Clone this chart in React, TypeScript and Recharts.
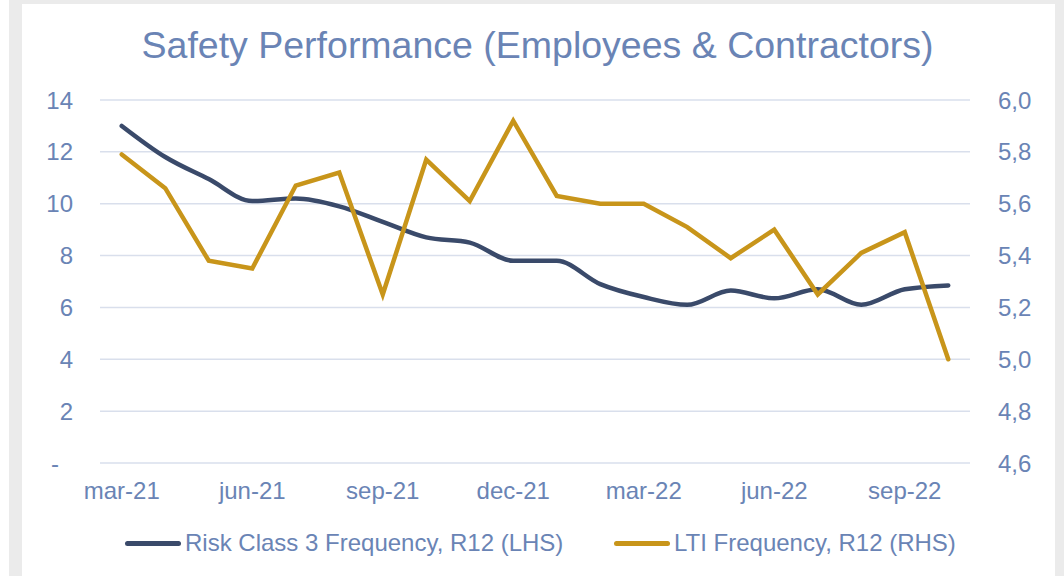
import React from "react";
import {
  LineChart,
  Line,
  XAxis,
  YAxis,
  CartesianGrid,
} from "recharts";

const months = [
  "mar-21", "apr-21", "may-21", "jun-21", "jul-21", "aug-21", "sep-21",
  "oct-21", "nov-21", "dec-21", "jan-22", "feb-22", "mar-22", "apr-22",
  "may-22", "jun-22", "jul-22", "aug-22", "sep-22", "oct-22",
];

const riskClass3 = [
  13.0, 11.8, 10.95, 10.1, 10.2, 9.9, 9.3, 8.7, 8.5, 7.8,
  7.8, 6.9, 6.4, 6.1, 6.65, 6.35, 6.7, 6.1, 6.7, 6.85,
];

const ltiFrequency = [
  5.79, 5.66, 5.38, 5.35, 5.67, 5.72, 5.25, 5.77, 5.61, 5.92,
  5.63, 5.6, 5.6, 5.51, 5.39, 5.5, 5.25, 5.41, 5.49, 5.0,
];

const leftTicks = [0, 2, 4, 6, 8, 10, 12, 14];
const rightTicks = [4.6, 4.8, 5.0, 5.2, 5.4, 5.6, 5.8, 6.0];

const NAVY = "#3a4a6a";
const GOLD = "#c8951a";
const TEXT = "#6a84b5";
const FONT = "'Liberation Sans', Arial, sans-serif";
const TICK_SIZE = 24;

const series = [
  { key: "risk", name: "Risk Class 3 Frequency, R12 (LHS)", color: NAVY },
  { key: "lti", name: "LTI Frequency, R12 (RHS)", color: GOLD },
];

const data = months.map((m, i) => ({
  month: m,
  risk: riskClass3[i],
  lti: ltiFrequency[i],
}));

function LeftTick(props: any) {
  const { x, y, payload } = props;
  const v = payload.value;
  return (
    <text
      x={v === 0 ? x - 14 : x}
      y={y}
      dy="0.355em"
      textAnchor="end"
      fill={TEXT}
      fontSize={TICK_SIZE}
      fontFamily={FONT}
    >
      {v === 0 ? "-" : String(v)}
    </text>
  );
}

function RightTick(props: any) {
  const { x, y, payload } = props;
  return (
    <text
      x={x}
      y={y}
      dy="0.355em"
      textAnchor="start"
      fill={TEXT}
      fontSize={TICK_SIZE}
      fontFamily={FONT}
    >
      {Number(payload.value).toFixed(1).replace(".", ",")}
    </text>
  );
}

function BottomTick(props: any) {
  const { x, y, payload } = props;
  return (
    <text
      x={x}
      y={y}
      dy="0.71em"
      textAnchor="middle"
      fill={TEXT}
      fontSize={TICK_SIZE}
      fontFamily={FONT}
    >
      {payload.value}
    </text>
  );
}

function ChartLegend() {
  const pos = [125, 614];
  return (
    <>
      {series.map((s, i) => (
        <div
          key={s.key}
          style={{
            position: "absolute",
            left: pos[i],
            top: 523,
            height: 40,
            display: "flex",
            alignItems: "center",
          }}
        >
          <div
            style={{
              width: 56,
              height: 5,
              borderRadius: 3,
              background: s.color,
              marginRight: 4,
            }}
          />
          <span
            style={{
              color: TEXT,
              fontSize: 24,
              fontFamily: FONT,
              whiteSpace: "nowrap",
            }}
          >
            {s.name}
          </span>
        </div>
      ))}
    </>
  );
}

export default function App() {
  return (
    <div
      style={{
        position: "absolute",
        left: 0,
        top: 0,
        width: 1064,
        height: 576,
        background: "#ffffff",
        overflow: "hidden",
      }}
    >
      <div
        style={{
          position: "absolute",
          left: 9,
          top: 0,
          width: 1055,
          height: 576,
          background: "#ebebeb",
        }}
      />
      <div
        style={{
          position: "absolute",
          left: 22,
          top: 4,
          width: 1033,
          height: 572,
          background: "#ffffff",
        }}
      />
      <div
        style={{
          position: "absolute",
          left: 0,
          top: 21,
          width: 1075,
          textAlign: "center",
          color: TEXT,
          fontSize: 37.5,
          fontFamily: FONT,
          lineHeight: "48px",
          whiteSpace: "nowrap",
        }}
      >
        Safety Performance (Employees &amp; Contractors)
      </div>
      <div style={{ position: "absolute", left: 0, top: 0 }}>
        <LineChart
          width={1064}
          height={576}
          data={data}
          margin={{ top: 100, right: 0, bottom: 73, left: 0 }}
        >
          <CartesianGrid
            yAxisId="left"
            vertical={false}
            stroke="#d9dfec"
            strokeWidth={1.5}
          />
          <XAxis
            dataKey="month"
            interval={2}
            axisLine={false}
            tickLine={false}
            height={40}
            tickMargin={13}
            padding={{ left: 21.75, right: 21.75 }}
            tick={<BottomTick />}
          />
          <YAxis
            yAxisId="left"
            orientation="left"
            width={100}
            domain={[0, 14]}
            ticks={leftTicks}
            axisLine={false}
            tickLine={false}
            tickMargin={21}
            tick={<LeftTick />}
          />
          <YAxis
            yAxisId="right"
            orientation="right"
            width={94}
            domain={[4.6, 6.0]}
            ticks={rightTicks}
            axisLine={false}
            tickLine={false}
            tickMargin={22}
            tick={<RightTick />}
          />
          <Line
            yAxisId="left"
            type="monotone"
            dataKey="risk"
            name={series[0].name}
            stroke={NAVY}
            strokeWidth={4.5}
            strokeLinecap="round"
            strokeLinejoin="round"
            dot={false}
            activeDot={false}
            isAnimationActive={false}
          />
          <Line
            yAxisId="right"
            type="linear"
            dataKey="lti"
            name={series[1].name}
            stroke={GOLD}
            strokeWidth={4.5}
            strokeLinecap="round"
            strokeLinejoin="miter"
            dot={false}
            activeDot={false}
            isAnimationActive={false}
          />
        </LineChart>
      </div>
      <ChartLegend />
    </div>
  );
}
